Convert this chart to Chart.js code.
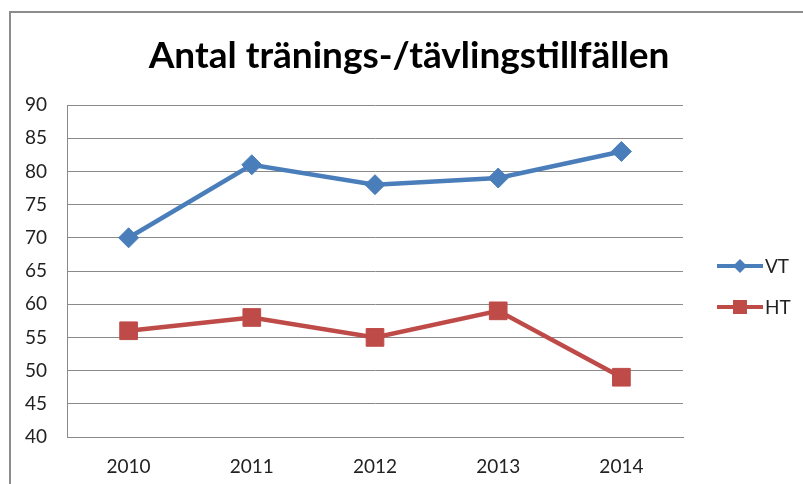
<!DOCTYPE html>
<html>
<head>
<meta charset="utf-8">
<script src="https://cdn.jsdelivr.net/npm/chart.js@4"></script>
<style>
  html, body { margin: 0; padding: 0; background: #fff; }
  #wrap { width: 803px; height: 484px; }
</style>
</head>
<body>
<div id="wrap"><canvas id="Tillfallen" width="803" height="484"></canvas></div>
<script>
const titel = 'Antal tränings-/tävlingstillfällen';
const ar = ['2010', '2011', '2012', '2013', '2014'];
const vt = [70, 81, 78, 79, 83];
const ht = [56, 58, 55, 59, 49];
const yTicks = [40, 45, 50, 55, 60, 65, 70, 75, 80, 85, 90];

const BLUE = '#4A7EBB';
const RED = '#BE4B48';
const GRID = '#8a8a8a';

// ram, rubrik och egen legend
const ramOchLegend = {
  id: 'ramOchLegend',
  beforeDraw(chart) {
    const ctx = chart.ctx;
    ctx.save();
    ctx.strokeStyle = '#8c8c8c';
    ctx.lineWidth = 2;
    ctx.beginPath();
    ctx.moveTo(10, 484);
    ctx.lineTo(10, 12);
    ctx.lineTo(803, 12);
    ctx.stroke();
    ctx.restore();
  },
  afterDraw(chart) {
    const ctx = chart.ctx;
    ctx.save();
    ctx.fillStyle = '#000';
    ctx.font = 'bold 37px Lato';
    ctx.textAlign = 'center';
    ctx.textBaseline = 'middle';
    ctx.fillText(titel, 409, 56);

    const items = [
      { text: 'VT', color: BLUE, y: 266, style: 'diamond' },
      { text: 'HT', color: RED, y: 307, style: 'square' }
    ];
    items.forEach(function (it) {
      ctx.strokeStyle = it.color;
      ctx.fillStyle = it.color;
      ctx.lineWidth = 4;
      ctx.beginPath();
      ctx.moveTo(717, it.y);
      ctx.lineTo(763, it.y);
      ctx.stroke();
      ctx.beginPath();
      if (it.style === 'diamond') {
        ctx.moveTo(740, it.y - 7);
        ctx.lineTo(747, it.y);
        ctx.lineTo(740, it.y + 7);
        ctx.lineTo(733, it.y);
        ctx.closePath();
      } else {
        ctx.rect(733, it.y - 7, 14, 14);
      }
      ctx.fill();
      ctx.fillStyle = '#222';
      ctx.font = '19px Lato';
      ctx.textBaseline = 'middle';
      ctx.textAlign = 'left';
      ctx.fillText(it.text, 765, it.y + 1);
    });
    ctx.restore();
  }
};

const ctx = document.getElementById('Tillfallen').getContext('2d');
const myChart = new Chart(ctx, {
  type: 'line',
  data: {
    labels: ar,
    datasets: [{
      label: 'VT',
      data: vt,
      borderColor: BLUE,
      backgroundColor: BLUE,
      borderWidth: 4.5,
      pointStyle: 'rectRot',
      pointRadius: 10,
      pointHoverRadius: 10,
      pointBorderWidth: 1,
      tension: 0
    }, {
      label: 'HT',
      data: ht,
      borderColor: RED,
      backgroundColor: RED,
      borderWidth: 4.5,
      pointStyle: 'rect',
      pointRadius: 12.5,
      pointHoverRadius: 12.5,
      pointBorderWidth: 1,
      tension: 0
    }]
  },
  options: {
    responsive: false,
    animation: false,
    events: [],
    layout: { padding: { left: 0, right: 120, top: 105, bottom: 0 } },
    plugins: {
      legend: { display: false },
      tooltip: { enabled: false },
      title: { display: false }
    },
    scales: {
      x: {
        offset: true,
        grid: { display: false, drawTicks: false },
        border: { display: true, color: GRID, width: 1 },
        ticks: { color: '#222', font: { family: 'Lato', size: 19 }, padding: 18, maxRotation: 0 },
        afterFit(scale) { scale.height = 47; }
      },
      y: {
        min: 40,
        max: 90,
        afterBuildTicks(scale) { scale.ticks = yTicks.map(v => ({ value: v })); },
        grid: { color: GRID, lineWidth: 1, drawTicks: false },
        border: { display: true, color: GRID, width: 1 },
        ticks: { color: '#222', font: { family: 'Lato', size: 19 }, padding: 20 },
        afterFit(scale) { scale.width = 67; }
      }
    }
  },
  plugins: [ramOchLegend]
});
</script>
</body>
</html>
